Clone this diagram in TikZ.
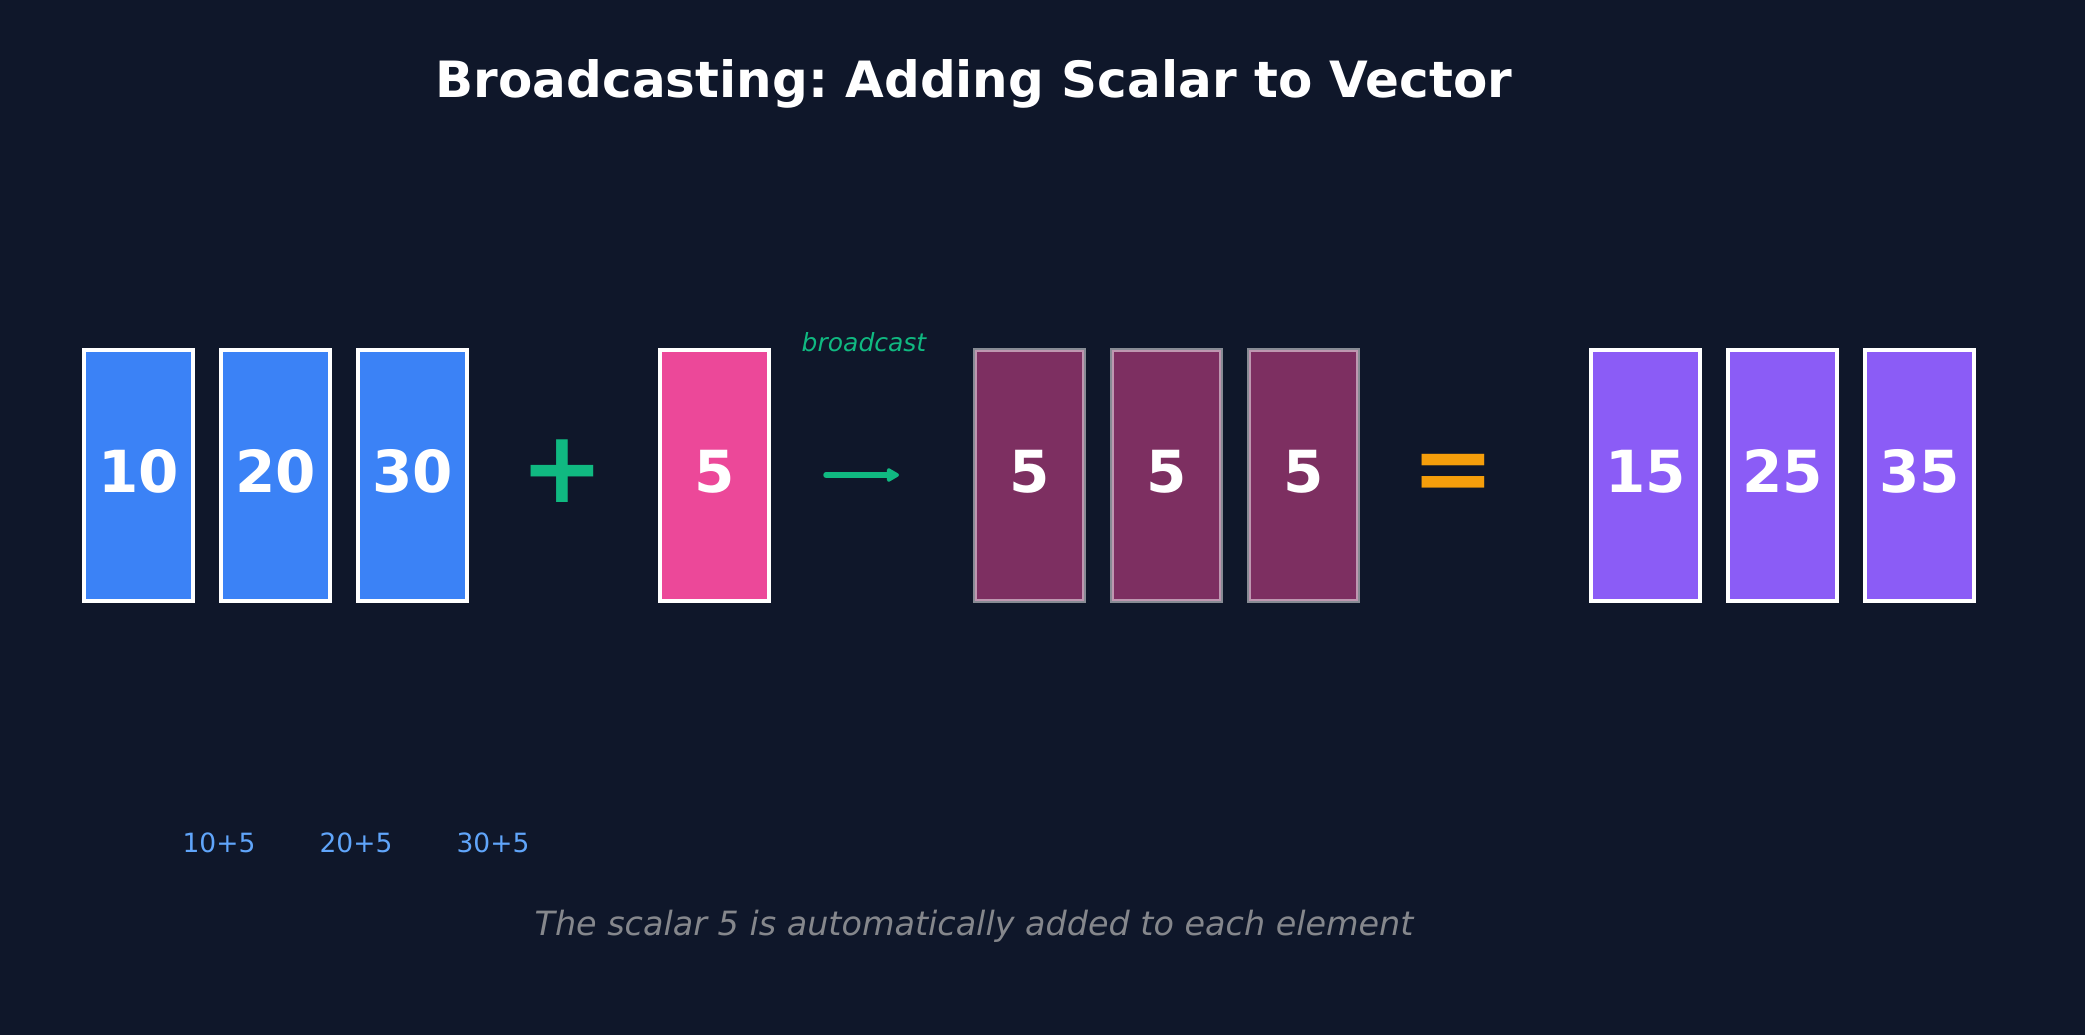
\documentclass[tikz,border=0pt]{standalone}
\usepackage{fontspec}
\setmainfont{DejaVu Sans}
\usetikzlibrary{arrows.meta}
\frenchspacing
\definecolor{fondo}{HTML}{0F172A}
\definecolor{azul}{HTML}{3B82F6}
\definecolor{azulclaro}{HTML}{60A5FA}
\definecolor{rosa}{HTML}{EC4899}
\definecolor{morado}{HTML}{8B5CF6}
\definecolor{verde}{HTML}{10B981}
\definecolor{naranja}{HTML}{F59E0B}
\definecolor{gris}{HTML}{85878C}
\newcommand{\tam}[1]{\fontsize{#1}{#1}\selectfont}

\begin{document}
\begin{tikzpicture}[x=1pt, y=-1pt, >={Triangle[length=14pt, width=15pt, round]},
  cifra/.style={inner sep=0pt, text=white, font=\bfseries\tam{58}, text height=44pt, text depth=10pt},
  caja/.style={cifra, draw=white, line width=4pt, minimum width=109pt, minimum height=251pt},
  signo/.style={inner sep=0pt, font=\bfseries\tam{100}}]
  % fondo
  \fill[fondo] (0,0) rectangle (2085,1035);
  \node[text=white, font=\bfseries\tam{50}] (titulo) at (974,84) {Broadcasting: Adding Scalar to Vector};
  % vector original
  \foreach \v/\x/\n in {10/138.7/a, 20/275.7/b, 30/412.7/c}
    \node[caja, fill=azul] (v\n) at (\x,475.5) {\v};
  \node[signo, text=verde] (mas) at (562.7,471.3) {+};
  % escalar
  \node[caja, fill=rosa] (esc) at (714.3,475.5) {5};
  \node[text=verde, font=\itshape\tam{25}] (etq) at (864,342) {broadcast};
  \coordinate (flA) at (826,475);
  \coordinate (flB) at (899,475);
  \draw[->, verde, line width=5.5pt, line cap=round] (flA) -- (flB);
  % copias del escalar
  \foreach \x/\n in {1029.5/a, 1166.5/b, 1303.5/c}{
    \node[caja, fill=rosa, opacity=0.5] (e\n) at (\x,475.5) {};
    \node[cifra] at (e\n) {5};
  }
  \node[signo, text=naranja, anchor=base] (igual) at ([xshift=891pt]mas.base) {=};
  % resultado
  \foreach \v/\x/\n in {15/1645.5/a, 25/1782.5/b, 35/1919.5/c}
    \node[caja, fill=morado] (r\n) at (\x,475.5) {\v};
  % sumas
  \foreach \v/\x in {10+5/219, 20+5/356, 30+5/493}
    \node[text=azulclaro, font=\tam{26.5}] at (\x,843) {\v};
  \node[text=gris, font=\itshape\tam{33.4}] (nota) at (974,926) {The scalar 5 is automatically added to each element};
\end{tikzpicture}
\end{document}
